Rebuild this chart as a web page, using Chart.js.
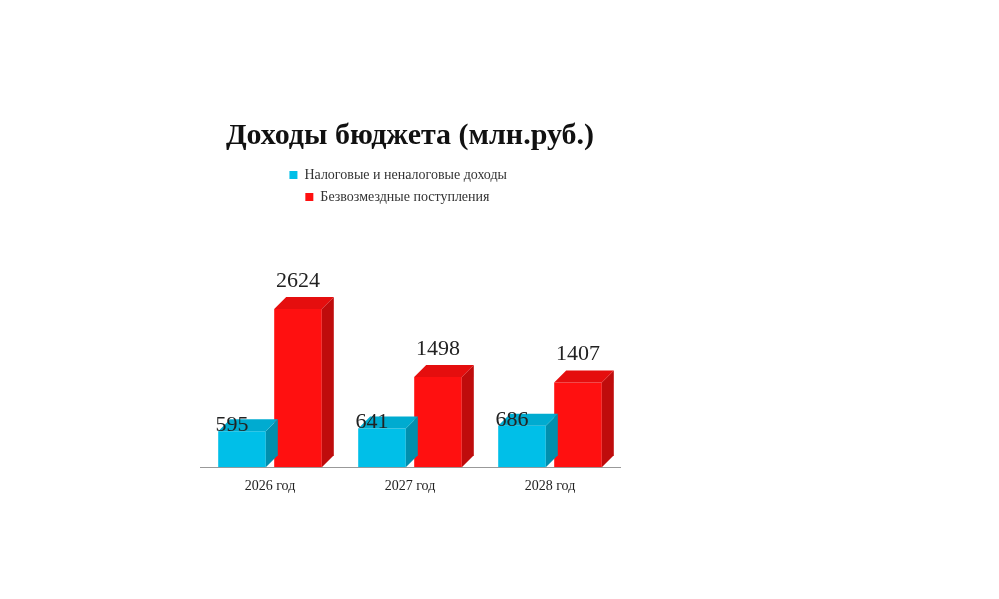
<!DOCTYPE html>
<html><head><meta charset="utf-8">
<script src="https://cdn.jsdelivr.net/npm/chart.js@4/dist/chart.umd.min.js"></script>
<style>body{margin:0;background:#fff}#w{position:absolute;left:200px;top:118px;width:440px;height:380px}</style>
</head><body><div id="w"><canvas id="c"></canvas></div>
<script>
const categories = ['2026 год','2027 год','2028 год'];
const taxIncome = [595, 641, 686];
const grants = [2624, 1498, 1407];
const seriesNames = ['Налоговые и неналоговые доходы','Безвозмездные поступления'];

function shade(hex, f){const n=parseInt(hex.slice(1),16);const r=(n>>16)*f,g=((n>>8)&255)*f,b=(n&255)*f;return `rgb(${r|0},${g|0},${b|0})`;}
const d=12;
const box3d={id:'box3d',afterDatasetsDraw(ch){const ctx=ch.ctx;
 ch.data.datasets.forEach((ds,i)=>{ch.getDatasetMeta(i).data.forEach((b,j)=>{
  const l=b.x-b.width/2,r=b.x+b.width/2,t=b.y,btm=b.base;
  ctx.fillStyle=shade(ds.backgroundColor,0.75);
  ctx.beginPath();ctx.moveTo(r,t);ctx.lineTo(r+d,t-d);ctx.lineTo(r+d,btm-d);ctx.lineTo(r,btm);ctx.fill();
  ctx.fillStyle=shade(ds.backgroundColor,0.9);
  ctx.beginPath();ctx.moveTo(l,t);ctx.lineTo(l+d,t-d);ctx.lineTo(r+d,t-d);ctx.lineTo(r,t);ctx.fill();
  ctx.fillStyle='#222';ctx.font='22px "Liberation Serif"';ctx.textAlign='center';
  ctx.fillText(ds.data[j], b.x+(i?0:-10), t-(i?28:6));
 });});}};
new Chart(document.getElementById('c'),{type:'bar',
 data:{labels:categories,datasets:[
  {label:seriesNames[0],data:taxIncome,backgroundColor:'#00bfe8'},
  {label:seriesNames[1],data:grants,backgroundColor:'#ff1010'}]},
 options:{responsive:true,maintainAspectRatio:false,animation:false,
  datasets:{bar:{barPercentage:0.85,categoryPercentage:0.8}},
  layout:{padding:{right:20}},
  plugins:{title:{display:true,text:'Доходы бюджета (млн.руб.)',color:'#111',font:{family:'Liberation Serif',size:30,weight:'bold'},padding:{top:0,bottom:6}},
   legend:{align:'end',labels:{boxWidth:8,boxHeight:8,padding:8,color:'#333',font:{family:'Liberation Serif',size:14},
     generateLabels(ch){const a=Chart.defaults.plugins.legend.labels.generateLabels(ch);a.forEach(x=>x.text=x.text.padEnd(60,' '));return a;}}},
   tooltip:{enabled:false}},
  scales:{y:{display:false,min:0,max:4200},
   x:{grid:{display:false},border:{color:'#999'},ticks:{color:'#222',font:{family:'Liberation Serif',size:14}}}}},
 plugins:[box3d]});
</script></body></html>
